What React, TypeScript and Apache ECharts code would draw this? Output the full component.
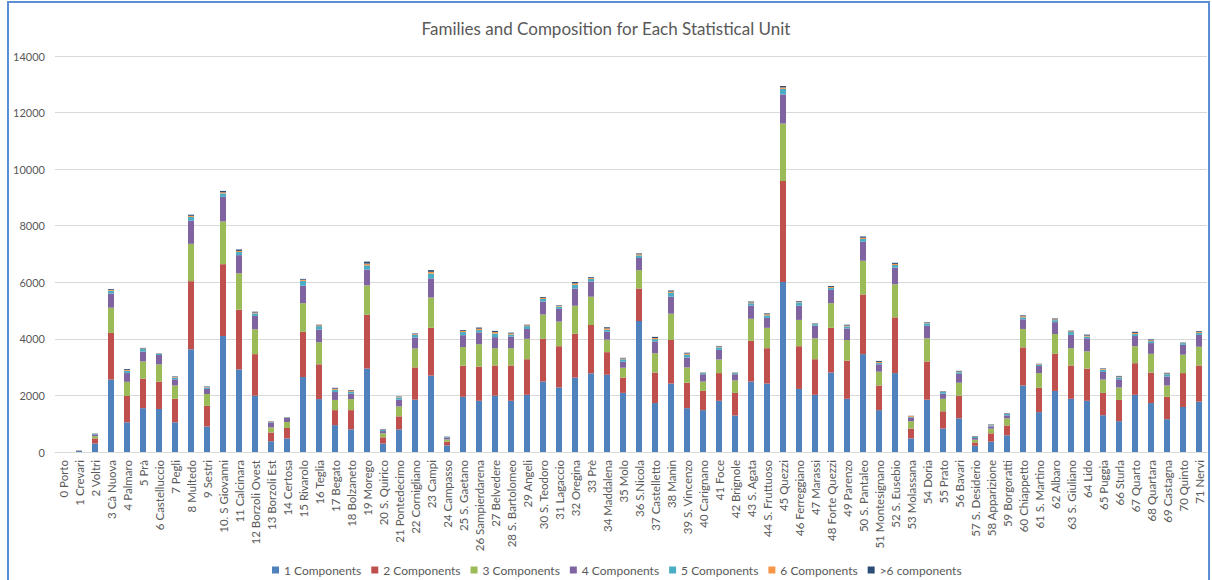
import React, { useEffect, useRef } from "react";
import * as echarts from "echarts";

const categories = [
  "0 Porto", "1 Crevari", "2 Voltri", "3 Cà Nuova", "4 Palmaro", "5 Prà", "6 Castelluccio", "7 Pegli",
  "8 Multedo", "9 Sestri", "10. S Giovanni", "11 Calcinara", "12 Borzoli Ovest", "13 Borzoli Est",
  "14 Certosa", "15 Rivarolo", "16 Teglia", "17 Begato", "18 Bolzaneto", "19 Morego", "20 S. Quirico",
  "21 Pontedecimo", "22 Cornigliano", "23 Campi", "24 Campasso", "25 S. Gaetano", "26 Sampierdarena",
  "27 Belvedere", "28 S. Bartolomeo", "29 Angeli", "30 S. Teodoro", "31 Lagaccio", "32 Oregina",
  "33 Prè", "34 Maddalena", "35 Molo", "36 S.Nicola", "37 Castelletto", "38 Manin", "39 S. Vincenzo",
  "40 Carignano", "41 Foce", "42 Brignole", "43 S. Agata", "44 S. Fruttuoso", "45 Quezzi",
  "46 Ferreggiano", "47 Marassi", "48 Forte Quezzi", "49 Parenzo", "50 S. Pantaleo", "51 Montesignano",
  "52 S. Eusebio", "53 Molassana", "54 Doria", "55 Prato", "56 Bavari", "57 S. Desiderio",
  "58 Apparizione", "59 Borgoratti", "60 Chiappetto", "61 S. Martino", "62 Albaro", "63 S. Giuliano",
  "64 Lido", "65 Puggia", "66 Sturla", "67 Quarto", "68 Quartara", "69 Castagna", "70 Quinto", "71 Nervi",
];

const seriesNames = [
  "1 Components", "2 Components", "3 Components", "4 Components",
  "5 Components", "6 Components", ">6 components",
];

const comp1 = [
  0, 45, 300, 2560, 1050, 1550, 1520, 1050, 3630, 900, 4100, 2920, 1990, 380, 480, 2650, 1870, 950,
  800, 2950, 300, 800, 1850, 2700, 235, 1950, 1810, 1990, 1810, 2020, 2490, 2280, 2630, 2780, 2730,
  2090, 4630, 1730, 2420, 1550, 1480, 1810, 1290, 2490, 2420, 6010, 2230, 2020, 2810, 1880, 3460,
  1480, 2790, 480, 1850, 830, 1190, 220, 365, 590, 2350, 1410, 2160, 1880, 1810, 1300, 1090, 2020,
  1730, 1160, 1590, 1780,
];
const comp2 = [
  0, 8, 180, 1650, 930, 1040, 970, 830, 2410, 730, 2540, 2110, 1470, 310, 370, 1600, 1230, 530,
  680, 1900, 220, 460, 1140, 1690, 130, 1100, 1210, 1070, 1250, 1260, 1510, 1460, 1550, 1710, 800,
  540, 1150, 1080, 1540, 900, 680, 980, 800, 1440, 1250, 3570, 1510, 1260, 1580, 1350, 2110,
  870, 1970, 350, 1350, 610, 800, 120, 295, 350, 1350, 860, 1310, 1180, 1140, 790, 750, 1120,
  1080, 790, 1200, 1280,
];
const comp3 = [
  0, 4, 80, 890, 500, 610, 610, 470, 1320, 420, 1510, 1290, 880, 180, 210, 1010, 780, 360,
  390, 1040, 140, 350, 670, 1070, 80, 660, 790, 610, 610, 720, 860, 870, 990, 1000, 440,
  350, 650, 680, 930, 540, 330, 480, 440, 780, 720, 2030, 930, 740, 870, 730, 1190,
  490, 1170, 260, 820, 440, 460, 95, 165, 250, 650, 520, 700, 610, 610, 470, 440, 600,
  660, 400, 650, 660,
];
const comp4 = [
  0, 2, 60, 500, 310, 350, 330, 220, 820, 180, 870, 640, 470, 170, 150, 620, 450, 280,
  190, 560, 80, 240, 390, 680, 70, 420, 420, 390, 410, 350, 460, 450, 610, 540, 280,
  210, 430, 420, 600, 350, 260, 340, 220, 470, 350, 1030, 500, 440, 470, 410, 670,
  260, 590, 130, 440, 180, 310, 60, 80, 105, 340, 250, 420, 470, 460, 270, 290, 360,
  380, 320, 350, 420,
];
const comp5 = [
  0, 1, 20, 100, 80, 90, 40, 60, 130, 50, 120, 110, 90, 20, 15, 170, 120, 80,
  70, 150, 40, 80, 90, 170, 25, 110, 80, 130, 70, 100, 90, 80, 130, 90, 70,
  90, 90, 80, 140, 100, 40, 90, 40, 80, 90, 200, 120, 60, 70, 70, 100,
  50, 90, 20, 90, 60, 60, 40, 40, 50, 70, 45, 70, 100, 60, 80, 70, 70,
  70, 80, 60, 70,
];
const comp6 = [
  0, 0, 5, 30, 30, 20, 10, 20, 40, 15, 40, 40, 30, 20, 5, 40, 30, 40,
  25, 60, 15, 20, 25, 60, 5, 40, 50, 50, 40, 30, 40, 25, 50, 30, 50,
  30, 40, 40, 40, 40, 10, 30, 10, 30, 40, 50, 25, 15, 35, 30, 45,
  35, 40, 30, 20, 15, 25, 15, 15, 15, 40, 20, 30, 25, 35, 25, 25, 40,
  30, 25, 15, 30,
];
const comp7 = [
  0, 0, 10, 30, 30, 20, 10, 20, 40, 20, 50, 50, 30, 10, 5, 30, 20, 30,
  25, 70, 15, 15, 25, 60, 5, 30, 40, 40, 30, 20, 30, 20, 50, 30, 40,
  20, 30, 40, 40, 30, 10, 20, 10, 30, 30, 50, 25, 15, 35, 30, 45,
  35, 40, 10, 20, 15, 25, 15, 15, 15, 30, 15, 30, 25, 35, 20, 25, 40,
  30, 25, 10, 30,
];

const seriesData = [comp1, comp2, comp3, comp4, comp5, comp6, comp7];
const colors = ["#4F81BD", "#C0504D", "#9BBB59", "#8064A2", "#4BACC6", "#F79646", "#2C4D75"];

const yTicks = { min: 0, max: 14000, interval: 2000 };

const FONT = "Lato, 'Open Sans', sans-serif";

export default function App() {
  const ref = useRef<HTMLDivElement>(null);

  useEffect(() => {
    if (!ref.current) return;
    const chart = echarts.init(ref.current, null, { renderer: "svg" });
    chart.setOption({
      animation: false,
      color: colors,
      backgroundColor: "#ffffff",
      title: {
        text: "Families and Composition for Each Statistical Unit",
        left: "center",
        top: 15,
        textStyle: { fontFamily: FONT, fontSize: 17, fontWeight: "normal", color: "#595959" },
      },
      grid: { left: 55, right: 5, top: 56, bottom: 128, containLabel: false },
      legend: {
        data: seriesNames,
        left: 272,
        top: 564,
        padding: 0,
        itemWidth: 7,
        itemHeight: 7,
        itemGap: 10,
        icon: "rect",
        textStyle: { fontFamily: FONT, fontSize: 12, color: "#595959" },
      },
      xAxis: {
        type: "category",
        data: categories,
        axisLine: { show: true, lineStyle: { color: "#D9D9D9" } },
        axisTick: { show: false },
        axisLabel: {
          interval: 0,
          rotate: 90,
          fontFamily: FONT,
          fontSize: 11.5,
          color: "#595959",
          margin: 8,
        },
      },
      yAxis: {
        type: "value",
        min: yTicks.min,
        max: yTicks.max,
        interval: yTicks.interval,
        axisLine: { show: false },
        axisTick: { show: false },
        splitLine: { lineStyle: { color: "#D9D9D9" } },
        axisLabel: {
          fontFamily: FONT,
          fontSize: 11,
          color: "#595959",
          margin: 10,
          formatter: (v: number) => String(v),
        },
      },
      series: seriesNames.map((name, i) => ({
        name,
        type: "bar",
        stack: "total",
        barWidth: 6,
        data: seriesData[i],
        itemStyle: { color: colors[i] },
      })),
    });
    return () => chart.dispose();
  }, []);

  return (
    <div style={{ position: "fixed", left: 0, top: 0, width: 1212, height: 580, background: "#fff" }}>
      <div ref={ref} style={{ position: "absolute", left: 0, top: 0, width: 1212, height: 580 }} />
      <div
        style={{
          position: "absolute",
          left: 7,
          top: 1,
          width: 1199,
          height: 640,
          borderLeft: "2px solid #5B8FD3",
          borderTop: "2px solid #5B8FD3",
          borderRight: "2px solid #5B8FD3",
          pointerEvents: "none",
        }}
      />
    </div>
  );
}
